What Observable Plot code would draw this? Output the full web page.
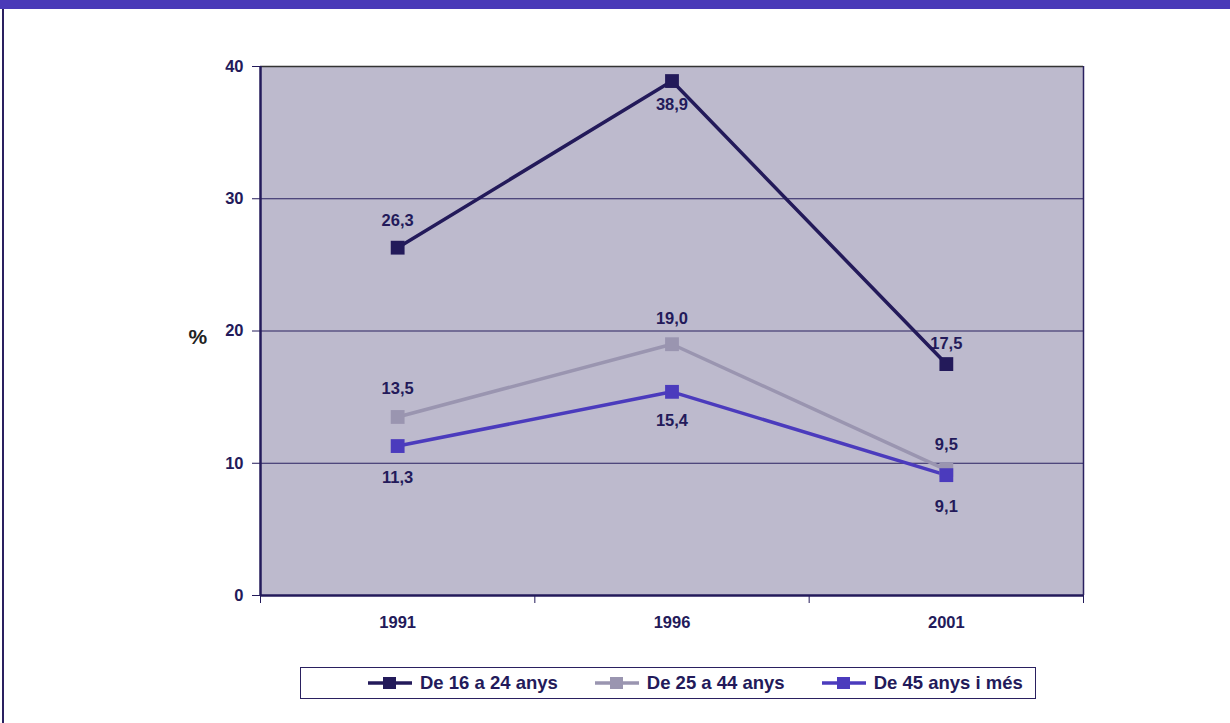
<!DOCTYPE html>
<html><head><meta charset="utf-8">
<script src="https://cdn.jsdelivr.net/npm/d3@7"></script>
<script src="https://cdn.jsdelivr.net/npm/@observablehq/plot@0.6"></script>
<style>
body{margin:0;background:#fff;font-family:"Liberation Sans",Arial,sans-serif;}
#wrap{position:relative;width:1230px;height:723px;overflow:hidden;}
#topbar{position:absolute;left:0;top:0;width:1230px;height:9px;background:#4a3ab8;}
#leftbar{position:absolute;left:2px;top:9px;width:2px;height:714px;background:#2a2060;}
#chart{position:absolute;left:0;top:0;}
#legend{position:absolute;left:300px;top:667px;width:736px;height:32px;border:1.5px solid #2a2060;background:#fff;display:flex;align-items:center;padding-left:67px;box-sizing:border-box;}
#legend .item{display:flex;align-items:center;margin-right:37px;font-weight:bold;font-size:18.5px;color:#231a5a;white-space:nowrap;}
#legend svg{margin-right:8px;}
</style></head>
<body><div id="wrap"><div id="topbar"></div><div id="leftbar"></div><div id="chart"></div><div id="legend"></div></div>
<script>
const years = ["1991", "1996", "2001"];
const series = ["De 16 a 24 anys", "De 25 a 44 anys", "De 45 anys i més"];
const v16to24 = [26.3, 38.9, 17.5];
const v25to44 = [13.5, 19.0, 9.5];
const v45plus = [11.3, 15.4, 9.1];
const yTicks = [0, 10, 20, 30, 40];

const colors = ["#231a5a", "#9a95b0", "#4b3bbd"];
const labelDy = [[-27, 24, -20], [-28, -26, -25], [32, 29, 32]];

const values = [v16to24, v25to44, v45plus];
const rows = [];
values.forEach((vals, s) => vals.forEach((v, i) => rows.push({series: series[s], s, year: years[i], xi: i + 0.5, value: v, dy: labelDy[s][i]})));

const ink = "#231a5a";
const marks = [
  Plot.frame({fill: "#bdbacd", stroke: null}),
  Plot.ruleY([10, 20, 30], {stroke: "#2a2060", strokeWidth: 1.2}),
  Plot.ruleY([40], {stroke: "#333", strokeWidth: 1.5}),
  Plot.ruleX([3], {stroke: "#2a2060", strokeWidth: 1.5}),
  Plot.axisY({ticks: yTicks, tickSize: 8, tickPadding: 9, fontSize: 16.5, fontWeight: "bold", label: null}),
  Plot.axisX({ticks: [0, 1, 2, 3], tickSize: 8, tickFormat: () => "", label: null}),
  Plot.axisX({ticks: [0.5, 1.5, 2.5], tickSize: 0, tickPadding: 21, tickFormat: i => years[Math.floor(i)], fontSize: 16.5, fontWeight: "bold", label: null}),
  Plot.ruleX([0], {stroke: ink, strokeWidth: 2.5}),
  Plot.ruleY([0], {stroke: ink, strokeWidth: 2.5}),
  Plot.text(["%"], {frameAnchor: "left", dx: -72, dy: 6, fontSize: 21, fontWeight: "bold", fill: "#222"}),
];
series.forEach((name, s) => {
  marks.push(Plot.line(rows.filter(d => d.s === s), {x: "xi", y: "value", stroke: colors[s], strokeWidth: 3.5, strokeLinejoin: "miter"}));
});
series.forEach((name, s) => {
  marks.push(Plot.dot(rows.filter(d => d.s === s), {x: "xi", y: "value", symbol: "square", r: 7.8, fill: colors[s], stroke: null}));
});
rows.forEach(d => {
  marks.push(Plot.text([d], {x: "xi", y: "value", text: d => d.value.toFixed(1).replace(".", ","), dy: d.dy, fontSize: 16.5, fontWeight: "bold", fill: ink}));
});

const chart = Plot.plot({
  width: 1230, height: 723,
  marginTop: 66, marginBottom: 128, marginLeft: 260, marginRight: 147,
  x: {type: "linear", domain: [0, 3]},
  y: {domain: [0, 40]},
  style: {fontFamily: "'Liberation Sans', Arial, sans-serif", color: ink, background: "transparent", overflow: "visible"},
  marks
});
document.getElementById("chart").appendChild(chart);

const legend = document.getElementById("legend");
series.forEach((name, s) => {
  const item = document.createElement("div");
  item.className = "item";
  item.innerHTML = `<svg width="44" height="14"><line x1="0" y1="7" x2="44" y2="7" stroke="${colors[s]}" stroke-width="3.5"/><rect x="15" y="1" width="13" height="12" fill="${colors[s]}"/></svg><span>${name}</span>`;
  legend.appendChild(item);
});
</script></body></html>
